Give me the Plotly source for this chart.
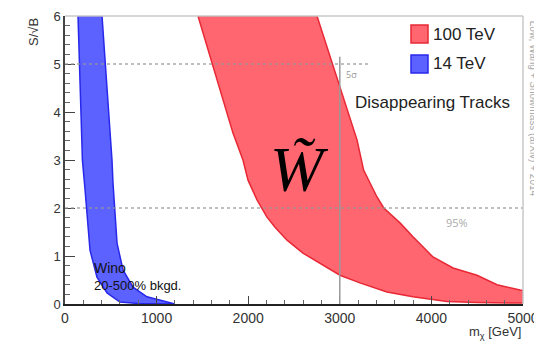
import plotly.graph_objects as go

# ---- data ----
red_lower_x = [1452, 1507, 1616, 1725, 1834, 1943, 1998, 2096, 2205, 2293, 2424, 2598, 2784, 3002, 3220, 3515, 3799, 4170, 4500, 5000]
red_lower_y = [6.0, 5.65, 4.94, 4.25, 3.56, 3.0, 2.58, 2.17, 1.81, 1.60, 1.33, 1.06, 0.85, 0.60, 0.44, 0.25, 0.15, 0.05, 0.03, 0.02]
red_upper_x = [2751, 3188, 3260, 3406, 3480, 3657, 3799, 4017, 4236, 4498, 4716, 4967, 5000]
red_upper_y = [6.0, 3.42, 2.79, 2.23, 2.0, 1.69, 1.40, 0.98, 0.75, 0.60, 0.40, 0.29, 0.28]

blue_lower_x = [142, 165, 190, 218, 240, 273, 349, 459, 600, 800, 1200]
blue_lower_y = [6.0, 4.5, 3.0, 2.4, 1.81, 1.12, 0.56, 0.23, 0.04, 0.01, 0.0]
blue_upper_x = [404, 513, 524, 546, 568, 633, 742, 895, 1114, 1200]
blue_upper_y = [6.0, 3.0, 2.52, 1.81, 1.27, 0.71, 0.35, 0.15, 0.04, 0.0]

series_names = ["100 TeV", "14 TeV"]
x_ticks = [0, 1000, 2000, 3000, 4000, 5000]
y_ticks = [0, 1, 2, 3, 4, 5, 6]
ref_mass = 3000
ref_mass_top = 5.15
sig_levels = [5, 2]
sig_line_end = [3330, 5000]

RED_FILL, RED_EDGE = "rgb(255,102,112)", "rgb(232,40,52)"
BLUE_FILL, BLUE_EDGE = "rgb(92,98,255)", "rgb(40,40,235)"

fig = go.Figure()

def band(lx, ly, ux, uy, name, fill, edge):
    xs = list(lx) + list(ux[::-1])
    ys = list(ly) + list(uy[::-1])
    xs.append(xs[0]); ys.append(ys[0])
    fig.add_trace(go.Scatter(x=xs, y=ys, mode="lines", fill="toself",
                             fillcolor=fill, line=dict(color=edge, width=1.5),
                             name=name, hoverinfo="skip", showlegend=False))

band(red_lower_x, red_lower_y, red_upper_x, red_upper_y, series_names[0], RED_FILL, RED_EDGE)
band(blue_lower_x, blue_lower_y, blue_upper_x, blue_upper_y, series_names[1], BLUE_FILL, BLUE_EDGE)

# dotted significance lines
for lvl, xe in zip(sig_levels, sig_line_end):
    fig.add_shape(type="line", x0=0, x1=xe, y0=lvl, y1=lvl, xref="x", yref="y",
                  line=dict(color="rgba(150,150,150,0.8)", width=1.5, dash="dot"))
# vertical reference line
fig.add_shape(type="line", x0=ref_mass, x1=ref_mass, y0=0, y1=ref_mass_top,
              xref="x", yref="y", line=dict(color="#9a9a9a", width=1.5))
# frame top / right
fig.add_shape(type="line", x0=0, x1=1, y0=1, y1=1, xref="paper", yref="paper",
              line=dict(color="#c8c8c8", width=1.5))
fig.add_shape(type="line", x0=1, x1=1, y0=0, y1=1, xref="paper", yref="paper",
              line=dict(color="#c8c8c8", width=1.5))

# legend (manual, small rounded squares); positions relative to plot area
W_PLOT, H_PLOT, L, B = 458, 288, 65, 304
def px(xp): return (xp - L) / W_PLOT
def py(yp): return (B - yp) / H_PLOT
for (name, fill, edge, ytop) in [(series_names[0], RED_FILL, RED_EDGE, 25),
                                 (series_names[1], BLUE_FILL, BLUE_EDGE, 55)]:
    fig.add_shape(type="rect", x0=px(411), x1=px(428), y0=py(ytop), y1=py(ytop + 18),
                  xref="paper", yref="paper", fillcolor=fill,
                  line=dict(color=edge, width=1.5))
    fig.add_annotation(x=px(431), y=py(ytop + 9), xref="paper", yref="paper",
                       text=name, showarrow=False, xanchor="left", yanchor="middle",
                       font=dict(size=17, color="#222", family="Arial"))

ann = [
    dict(x=3050, y=4.78, text="5σ", font=dict(size=9, color="#999"), xanchor="left"),
    dict(x=4280, y=1.69, text="95%", font=dict(size=11, color="#aaa")),
    dict(x=4007, y=4.2, text="Disappearing Tracks", font=dict(size=17, color="#222", family="Arial")),
    dict(x=2560, y=2.8, text="<i>W\u0303</i>", font=dict(size=64, color="black", family="Liberation Serif")),
    dict(x=290, y=0.75, text="Wino", font=dict(size=14, color="#111", family="Arial"), xanchor="left"),
    dict(x=290, y=0.38, text="20-500% bkgd.", font=dict(size=13, color="#111", family="Arial"), xanchor="left"),
]
for a in ann:
    a.setdefault("xref", "x"); a.setdefault("yref", "y")
    a["showarrow"] = False
    fig.add_annotation(**a)

fig.add_annotation(x=-0.07, y=1.0, xref="paper", yref="paper", text="S/√B",
                   textangle=-90, showarrow=False, xanchor="center", yanchor="top",
                   font=dict(size=13, color="#333", family="Arial"))
fig.add_annotation(x=1.0, y=-0.062, xref="paper", yref="paper", text="m<sub>χ</sub> [GeV]",
                   showarrow=False, xanchor="right", yanchor="top",
                   font=dict(size=13, color="#333", family="Arial"))
fig.add_annotation(x=1.022, y=0.99, xref="paper", yref="paper",
                   text="Low, Wang + Snowmass (arXiv) + 2014",
                   textangle=90, showarrow=False, xanchor="center", yanchor="top",
                   font=dict(size=10, color="#aaa", family="Arial"))

fig.update_xaxes(range=[0, 5000], tickvals=x_ticks, ticks="inside", ticklen=8,
                 tickcolor="#444", showline=True, linecolor="#222", linewidth=1.5,
                 showgrid=False, zeroline=False, automargin=False,
                 tickfont=dict(size=14, color="#333", family="Arial"),
                 minor=dict(dtick=200, ticks="inside", ticklen=4, tickcolor="#666"))
fig.update_yaxes(range=[0, 6], tickvals=y_ticks, ticks="inside", ticklen=10,
                 tickcolor="#444", showline=True, linecolor="#444", linewidth=1.5,
                 showgrid=False, zeroline=False, automargin=False,
                 tickfont=dict(size=13, color="#333", family="Arial"),
                 minor=dict(dtick=0.2, ticks="inside", ticklen=5, tickcolor="#666"))

# page body has an 8px margin; compensate so the plot area lands where the reference has it
fig.update_layout(
    width=534, height=334,
    margin=dict(l=57, r=19, t=8, b=38),
    plot_bgcolor="white", paper_bgcolor="white",
    showlegend=False,
)

fig.write_html("out.html")
